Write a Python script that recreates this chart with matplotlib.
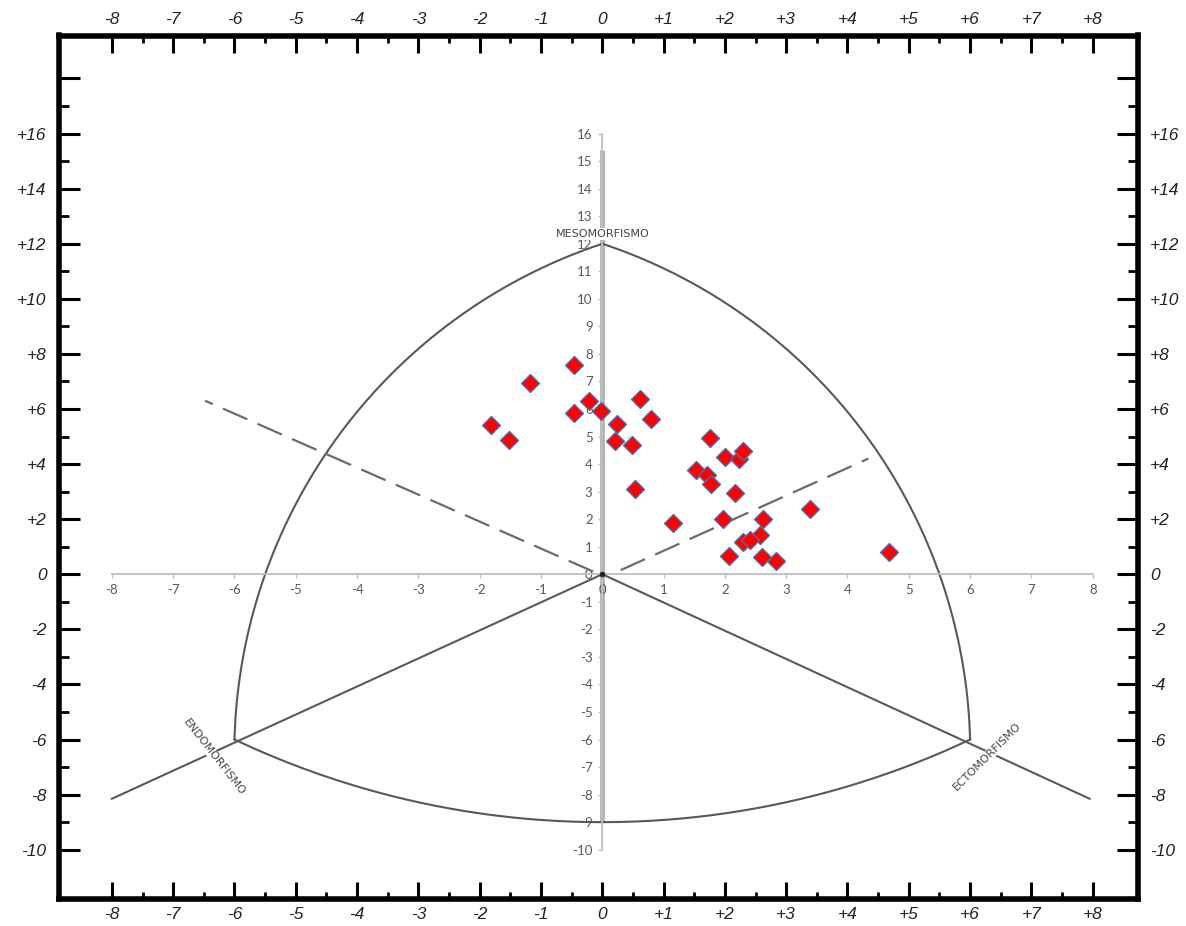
import numpy as np
import matplotlib
matplotlib.use("Agg")
import matplotlib.pyplot as plt
from matplotlib.ticker import FixedLocator, FixedFormatter

# ---------------- data (somatotype points: X = ecto-endo, Y = 2meso-(endo+ecto)) -------------
x_vals = [-1.82, -1.52, -1.18, -0.46, -0.46, -0.22, -0.02, 0.24, 0.20, 0.48, 0.62, 0.79,
          0.54, 1.16, 1.53, 1.70, 1.77, 1.75, 2.00, 2.23, 2.30, 2.17, 1.97, 2.62,
          2.58, 2.30, 2.41, 2.06, 2.61, 2.83, 3.39, 4.68]
y_vals = [5.42, 4.86, 6.93, 7.59, 5.84, 6.29, 5.94, 5.45, 4.82, 4.68, 6.36, 5.64,
          3.10, 1.87, 3.80, 3.62, 3.27, 4.95, 4.24, 4.20, 4.49, 2.96, 2.00, 2.00,
          1.44, 1.17, 1.25, 0.68, 0.63, 0.49, 2.36, 0.82]

# template vertices of the somatochart
meso_pt = (0, 12)
endo_pt = (-6, -6)
ecto_pt = (6, -6)
bottom_pt = (0, -9)
left_cross = (-5.5, 0)
right_cross = (5.5, 0)
endo_line_end = (-8.0, -8.15)
ecto_line_end = (7.95, -8.15)
dash_left_end = (-6.48, 6.3)
dash_right_end = (4.34, 4.2)
meso_bar = (-9, 15.4)

# outer frame ticks
outer_x_major = list(range(-8, 9))
outer_x_labels = [("+%d" % v if v > 0 else "%d" % v) for v in outer_x_major]
outer_x_minor = [v + 0.5 for v in range(-8, 8)]
outer_y_major = list(range(-10, 19, 2))
outer_y_labels = [("" if v == 18 else ("+%d" % v if v > 0 else "%d" % v)) for v in outer_y_major]
outer_y_minor = list(range(-9, 18, 2))

# inner (excel-like) axes ticks
inner_x_ticks = list(range(-8, 9))
inner_y_ticks = list(range(-10, 17))

# ---------------- figure ---------------------------------------------------------------------
W, H = 1186, 926
fig = plt.figure(figsize=(W / 100, H / 100), dpi=100)
rect = [59 / W, (H - 899) / H, (1137.5 - 59) / W, (899 - 35.5) / H]
XL = (-8.863, 8.731)
YL = (-11.79, 19.56)

ax = fig.add_axes(rect)
ax.set_xlim(*XL)
ax.set_ylim(*YL)
for sp in ax.spines.values():
    sp.set_linewidth(4.0)
    sp.set_color("black")
ax.xaxis.set_major_locator(FixedLocator(outer_x_major))
ax.xaxis.set_major_formatter(FixedFormatter(outer_x_labels))
ax.xaxis.set_minor_locator(FixedLocator(outer_x_minor))
ax.yaxis.set_major_locator(FixedLocator(outer_y_major))
ax.yaxis.set_major_formatter(FixedFormatter(outer_y_labels))
ax.yaxis.set_minor_locator(FixedLocator(outer_y_minor))
ax.tick_params(axis="x", which="major", direction="in", length=12, width=2.2,
               top=True, bottom=True, labeltop=True, labelbottom=True, pad=6,
               labelsize=12.5)
ax.tick_params(axis="x", which="minor", direction="in", length=5, width=2.0,
               top=True, bottom=True)
ax.tick_params(axis="y", which="major", direction="in", length=15, width=2.2,
               left=True, right=True, labelleft=True, labelright=True, pad=9,
               labelsize=12.5)
ax.tick_params(axis="y", which="minor", direction="in", length=7, width=2.0,
               left=True, right=True)
for lab in ax.get_xticklabels() + ax.get_yticklabels():
    lab.set_fontstyle("italic")
    lab.set_family("Liberation Sans")
    lab.set_color("#222222")

# ---------------- inner chart ---------------------------------------------------------------
ax2 = fig.add_axes(rect, label="inner")
ax2.patch.set_visible(False)
ax2.set_xlim(*XL)
ax2.set_ylim(*YL)
for side in ("top", "right"):
    ax2.spines[side].set_visible(False)
ax2.spines["left"].set_position(("data", 0))
ax2.spines["bottom"].set_position(("data", 0))
ax2.spines["left"].set_bounds(-10, 16)
ax2.spines["bottom"].set_bounds(-8, 8)
for side in ("left", "bottom"):
    ax2.spines[side].set_color("#bfbfbf")
    ax2.spines[side].set_linewidth(1.3)
ax2.set_xticks(inner_x_ticks)
ax2.set_yticks(inner_y_ticks)
ax2.set_xticklabels([str(v) for v in inner_x_ticks])
ax2.set_yticklabels([str(v) for v in inner_y_ticks])
ax2.tick_params(axis="both", direction="out", length=3, width=1, color="#bfbfbf",
                labelsize=9.5, labelcolor="#595959", pad=4)
for lab in ax2.get_xticklabels() + ax2.get_yticklabels():
    lab.set_family("Lato")

# thick grey mesomorph bar
ax2.plot([0, 0], list(meso_bar), color="#b3b3b3", lw=3.5, zorder=1, solid_capstyle="butt")

# aspect factor (pixel y-unit / pixel x-unit)
s = (rect[3] * H / (YL[1] - YL[0])) / (rect[2] * W / (XL[1] - XL[0]))


def arc_through(p0, pm, p1, n=200):
    A = np.array([p0[0], p0[1] * s])
    B = np.array([pm[0], pm[1] * s])
    C = np.array([p1[0], p1[1] * s])
    d = 2 * (A[0] * (B[1] - C[1]) + B[0] * (C[1] - A[1]) + C[0] * (A[1] - B[1]))
    ux = ((A @ A) * (B[1] - C[1]) + (B @ B) * (C[1] - A[1]) + (C @ C) * (A[1] - B[1])) / d
    uy = ((A @ A) * (C[0] - B[0]) + (B @ B) * (A[0] - C[0]) + (C @ C) * (B[0] - A[0])) / d
    r = np.hypot(A[0] - ux, A[1] - uy)
    a0 = np.arctan2(A[1] - uy, A[0] - ux)
    am = np.arctan2(B[1] - uy, B[0] - ux)
    a1 = np.arctan2(C[1] - uy, C[0] - ux)
    d1 = (a1 - a0) % (2 * np.pi)
    dm = (am - a0) % (2 * np.pi)
    sweep = d1 if dm < d1 else d1 - 2 * np.pi
    t = a0 + np.linspace(0, 1, n) * sweep
    return ux + r * np.cos(t), (uy + r * np.sin(t)) / s


line_kw = dict(color="#595959", lw=1.5, zorder=2)
for (p0, pm, p1) in [(meso_pt, left_cross, endo_pt),
                     (meso_pt, right_cross, ecto_pt),
                     (endo_pt, bottom_pt, ecto_pt)]:
    xs, ys = arc_through(p0, pm, p1)
    ax2.plot(xs, ys, **line_kw)

# solid radial lines
ax2.plot([0, endo_line_end[0]], [0, endo_line_end[1]], **line_kw)
ax2.plot([0, ecto_line_end[0]], [0, ecto_line_end[1]], **line_kw)
ax2.plot([0], [0], marker="o", ms=3, color="#222222", zorder=3)

# dashed lines
dash_kw = dict(color="#6b6b6b", lw=1.6, zorder=2, dashes=(12, 5))
ax2.plot([-0.15, dash_left_end[0]], [0.1, dash_left_end[1]], **dash_kw)
ax2.plot([0.3, dash_right_end[0]], [0.15, dash_right_end[1]], **dash_kw)

# axis names
name_font = ["Liberation Sans Narrow", "DejaVu Sans"]
ax2.text(0, 12.36, "MESOMORFISMO", ha="center", va="center", fontsize=8,
         family=name_font, color="#444444", zorder=6,
         bbox=dict(facecolor="white", edgecolor="none", pad=0.6))
ax2.text(-6.33, -6.63, "ENDOMORFISMO", ha="center", va="center", fontsize=8,
         family=name_font, color="#444444", rotation=-52, zorder=6,
         rotation_mode="anchor",
         bbox=dict(facecolor="white", edgecolor="none", pad=0.3))
ax2.text(6.28, -6.63, "ECTOMORFISMO", ha="center", va="center", fontsize=8,
         family=name_font, color="#444444", rotation=45, zorder=6,
         rotation_mode="anchor",
         bbox=dict(facecolor="white", edgecolor="none", pad=0.3))

# data points
ax2.plot(x_vals, y_vals, linestyle="none", marker="D", ms=9.5, mfc="#ff0000",
         mec="#4f6fa8", mew=1.0, zorder=7)

fig.savefig("out.png", dpi=100)
